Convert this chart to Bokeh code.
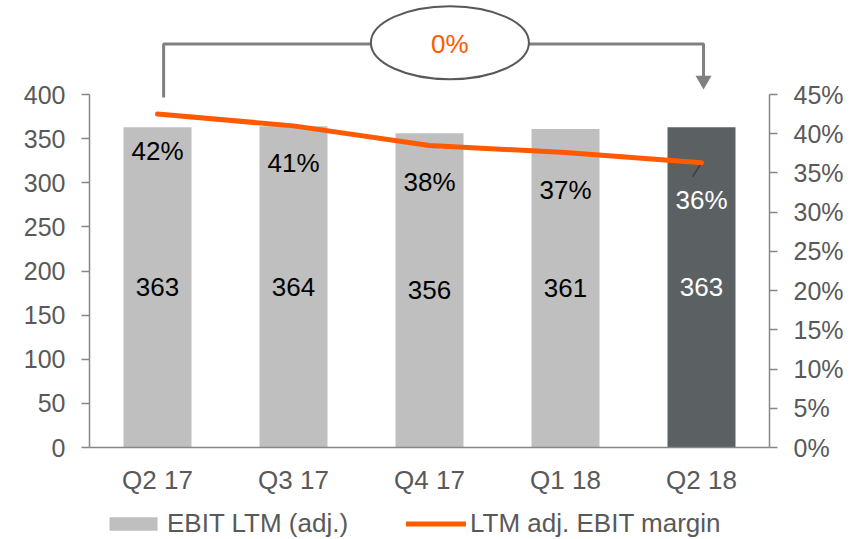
from bokeh.plotting import figure
from bokeh.models import (Range1d, LinearAxis, FactorRange, ColumnDataSource, Legend, LegendItem,
                          FixedTicker, NumeralTickFormatter)
from bokeh.core.properties import value
from bokeh.embed import file_html
from bokeh.resources import INLINE

# ---- data ----
quarters = ["Q2 17", "Q3 17", "Q4 17", "Q1 18", "Q2 18"]
ebit = [363, 364, 356, 361, 363]
margin = [0.425, 0.410, 0.385, 0.376, 0.363]
margin_labels = ["42%", "41%", "38%", "37%", "36%"]
ebit_ticks = [0, 50, 100, 150, 200, 250, 300, 350, 400]
pct_ticks = [0.0, 0.05, 0.10, 0.15, 0.20, 0.25, 0.30, 0.35, 0.40, 0.45]
change_label = "0%"

# ---- style ----
FONT = "Liberation Sans"
FS = "25px"
FS2 = "26px"
GRAY_AX = "#868686"
GRAY_TXT = "#595959"
ORANGE = "#FF5A00"
bar_colors = ["#BFBFBF"] * 4 + ["#5B6163"]
text_colors = ["#000000"] * 4 + ["#FFFFFF"]

PX = 0.8825                      # pixels per EBIT unit
Y_TOP = 447 / PX
Y_BOT = -(539 - 447) / PX
K = pct_ticks[-1] / ebit_ticks[-1]

p = figure(x_range=FactorRange(*quarters), y_range=Range1d(Y_BOT, Y_TOP),
           width=860, height=539,
           min_border_left=89, min_border_right=91, min_border_top=0, min_border_bottom=0,
           output_backend="svg", toolbar_location=None)
p.extra_y_ranges = {"pct": Range1d(Y_BOT * K, Y_TOP * K)}

src = ColumnDataSource(dict(
    q=quarters, ebit=ebit, half=[v / 2 for v in ebit], margin=margin,
    mlab=margin_labels, elab=[str(v) for v in ebit], bc=bar_colors, tc=text_colors))

bars = p.vbar(x="q", top="ebit", width=0.5, fill_color="bc", line_color=None, source=src)

# leader line for the last margin label
n = len(quarters)
last_x = n - 0.5
p.segment(x0=[last_x], y0=[margin[-1]], x1=[last_x - 0.066], y1=[margin[-1] - 0.018],
          y_range_name="pct", line_color="#3F3F3F", line_width=1.5)

line = p.line(x="q", y="margin", y_range_name="pct", line_color=ORANGE, line_width=5,
              line_cap="round", line_join="round", source=src)

p.text(x="q", y="half", text="elab", text_color="tc", text_font=value(FONT), text_font_size=FS2,
       text_align="center", text_baseline="middle", source=src)
p.text(x="q", y="margin", y_range_name="pct", text="mlab", text_color="tc", text_font=value(FONT),
       text_font_size=FS2, text_align="center", text_baseline="middle", y_offset=37, source=src)

# ---- change bracket ----
xl = 0.5 + 0.045
xr = n - 0.5 + 0.015
y_br = 457.2
p.line(x=[xl, xl, xr, xr], y=[396.6, y_br, y_br, 420], line_color="#808080", line_width=3)
p.scatter(x=[xr], y=[416.1], marker="inverted_triangle", size=16, fill_color="#808080", line_color=None)
p.ellipse(x=[2.65], y=[y_br + 1.5], width=158, height=73, width_units="screen", height_units="screen",
          fill_color="white", line_color=GRAY_TXT, line_width=2)
p.text(x=[2.65], y=[y_br], text=[change_label], text_color=ORANGE, text_font=value(FONT),
       text_font_size=FS2, text_align="center", text_baseline="middle")

# ---- axes ----
def style_axis(ax):
    ax.axis_line_color = GRAY_AX
    ax.axis_line_width = 1.5
    ax.major_tick_line_color = GRAY_AX
    ax.major_tick_line_width = 1.5
    ax.major_tick_in = 0
    ax.major_tick_out = 8
    ax.minor_tick_line_color = None
    ax.major_label_text_font = FONT
    ax.major_label_text_font_size = FS
    ax.major_label_text_color = GRAY_TXT
    ax.major_label_standoff = 16

ya = p.yaxis[0]
ya.ticker = FixedTicker(ticks=ebit_ticks)
ya.bounds = (0, ebit_ticks[-1])
style_axis(ya)

ra = LinearAxis(y_range_name="pct", ticker=FixedTicker(ticks=pct_ticks),
                formatter=NumeralTickFormatter(format="0%"), bounds=(0, pct_ticks[-1]))
style_axis(ra)
p.add_layout(ra, "right")

xa = p.xaxis[0]
style_axis(xa)
xa.fixed_location = 0
xa.major_tick_line_color = None
xa.major_tick_out = 0
xa.major_label_standoff = 17
xa.major_label_text_font_size = FS2

p.xgrid.visible = False
p.ygrid.visible = False
p.outline_line_color = None

legend = Legend(items=[LegendItem(label="EBIT LTM (adj.)", renderers=[bars], index=0),
                       LegendItem(label="LTM adj. EBIT margin", renderers=[line])],
                orientation="horizontal", location=(14, 0), glyph_width=60, glyph_height=17,
                label_text_font=FONT, label_text_font_size=FS2, label_text_color=GRAY_TXT,
                padding=0, margin=0, spacing=58, label_standoff=4,
                border_line_color=None, background_fill_alpha=0)
p.add_layout(legend, "center")

open("out.html", "w").write(file_html(p, INLINE))
